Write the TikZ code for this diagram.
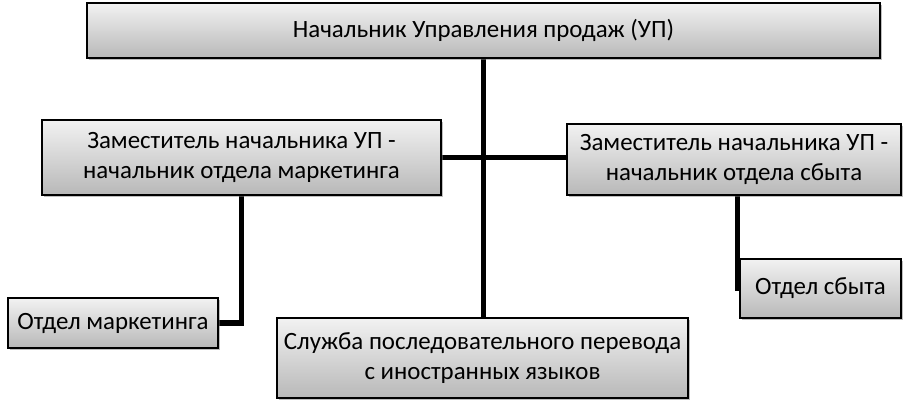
\documentclass[tikz,border=0pt]{standalone}
\usepackage{fontspec}
\setmainfont{Carlito}
\usepackage{tikz}
\usetikzlibrary{positioning,shadows,calc,backgrounds}
\definecolor{boxtop}{HTML}{F2F2F2}
\definecolor{boxbot}{HTML}{B8B8B8}

\begin{document}
\begin{tikzpicture}[x=0.025cm,y=-0.025cm,
  font=\fontsize{17.7}{20.8}\selectfont,
  box/.style={draw=black,line width=1.3pt,top color=boxtop,bottom color=boxbot,
              drop shadow={shadow xshift=1.3pt,shadow yshift=-1.3pt,opacity=0.5},
              align=center,inner sep=2pt},
  link/.style={line width=3.6pt,black}]
\useasboundingbox (0,0) rectangle (916,409);
% уровень 1
\node[box,minimum width=19.825cm,minimum height=1.375cm] (head) at (483.5,30.5)
  {Начальник Управления продаж (УП)};
% уровень 2
\node[box,minimum width=9.975cm,minimum height=1.875cm] (zm) at (241.5,157.5)
  {Заместитель начальника УП -\\начальник отдела маркетинга};
\node[box,minimum width=8.35cm,minimum height=1.775cm] (zs) at (734,159.5)
  {Заместитель начальника УП -\\начальник отдела сбыта};
% уровень 3
\node[box,minimum width=5.25cm,minimum height=1.25cm] (om) at (113,323)
  {Отдел маркетинга};
\node[box,minimum width=10.275cm,minimum height=2cm] (sp) at (482.5,358)
  {Служба последовательного перевода\\с иностранных языков};
\node[box,minimum width=4.025cm,minimum height=1.475cm] (os) at (820.5,288.5)
  {Отдел сбыта};
% связи
\begin{scope}[on background layer]
\draw[link] (head.south) -- (head.south |- sp.north);
\draw[link] (zm.east) -- (zm.east -| zs.west);
\draw[link] (zm.south) |- (om.east);
\draw[link] ($(zs.south -| os.west)+(-2,0)$) -- ($(os.west)+(-2,2)$);
\end{scope}
\end{tikzpicture}
\end{document}
